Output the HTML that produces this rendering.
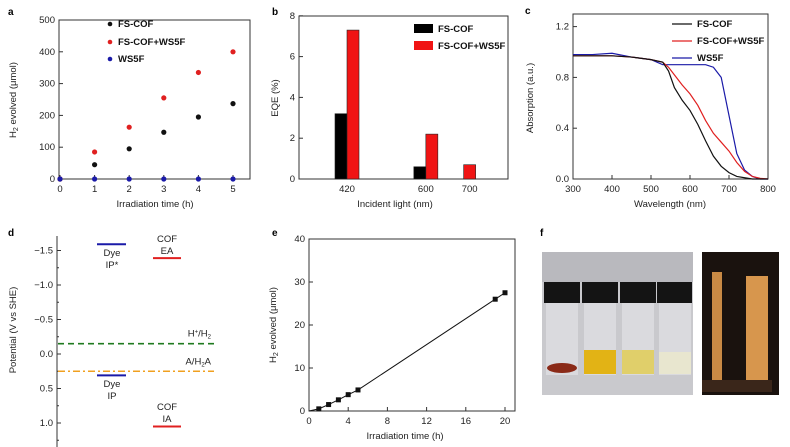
<!DOCTYPE html>
<html><head><meta charset="utf-8"><style>
body{margin:0;background:#fff;}
svg{display:block;font-family:"Liberation Sans",Arial,sans-serif;}
.t{font-size:9.5px;fill:#222}
.lb{font-size:10px;font-weight:bold;fill:#000}
.lg{font-size:9.5px;font-weight:bold;fill:#111}
</style></head><body>
<svg id="s" width="790" height="447" viewBox="0 0 790 447">
<g>
<rect x="542" y="252" width="151" height="143" fill="#c9c9cd"/>
<rect x="542" y="252" width="151" height="30" fill="#b9b9be"/>
<rect x="544" y="282" width="36" height="21" fill="#141414"/>
<rect x="582" y="282" width="36" height="21" fill="#141414"/>
<rect x="620" y="282" width="36" height="21" fill="#141414"/>
<rect x="657" y="282" width="35" height="21" fill="#141414"/>
<rect x="546" y="303" width="32" height="72" fill="#dadade"/>
<rect x="584" y="303" width="32" height="72" fill="#dadade"/>
<rect x="622" y="303" width="32" height="72" fill="#dadade"/>
<rect x="659" y="303" width="32" height="72" fill="#dadade"/>
<ellipse cx="562" cy="368" rx="15" ry="5" fill="#8a2a18"/>
<rect x="584" y="350" width="32" height="24" fill="#e2b315"/>
<rect x="622" y="350" width="32" height="24" fill="#e0cf6a"/>
<rect x="659" y="352" width="32" height="22" fill="#e8e6cf"/>
</g>
<g>
<rect x="702" y="252" width="77" height="143" fill="#1a120e"/>
<rect x="712" y="272" width="10" height="110" fill="#c98a45"/>
<rect x="746" y="276" width="22" height="105" fill="#d7964d"/>
<rect x="702" y="380" width="70" height="12" fill="#3a261a"/>
</g>
</svg>
<script>
const NS="http://www.w3.org/2000/svg";
const S=document.getElementById('s');
function el(tag,at,parent){const e=document.createElementNS(NS,tag);for(const k in at)e.setAttribute(k,at[k]);(parent||S).appendChild(e);return e;}
function tx(x,y,s,cls,anchor,rot){const e=el('text',{x:x,y:y,class:cls||'t','text-anchor':anchor||'middle'});if(rot)e.setAttribute('transform','rotate(-90 '+x+' '+y+')');e.textContent=s;return e;}

const aTimes=[0,1,2,3,4,5];
const aFS=[0,45,95,147,195,237];
const aFSW=[0,85,163,255,335,400];
const aW=[0,0,0,0,0,0];
const aYTicks=[0,100,200,300,400,500];

const bCats=[420,600,700];
const bFS=[3.2,0.6,0];
const bFSW=[7.3,2.2,0.7];
const bYTicks=[0,2,4,6,8];

const cWl=[300,350,400,450,500,530,545,560,580,600,620,640,660,680,700,720,740,760,780,800];
const cFS=[0.97,0.97,0.97,0.96,0.94,0.92,0.85,0.72,0.62,0.54,0.43,0.3,0.18,0.1,0.05,0.02,0.01,0,0,0];
const cFSW=[0.97,0.97,0.97,0.96,0.94,0.92,0.88,0.82,0.74,0.67,0.58,0.46,0.36,0.29,0.22,0.13,0.06,0.02,0.005,0];
const cWS=[0.98,0.98,0.99,0.96,0.94,0.9,0.9,0.9,0.9,0.9,0.9,0.9,0.88,0.8,0.5,0.2,0.07,0.02,0,0];
const cXTicks=[300,400,500,600,700,800];
const cYTicks=[0,0.4,0.8,1.2];

const dYTicks=[-1.5,-1.0,-0.5,0.0,0.5,1.0];
const dYLabels=['\u22121.5','\u22121.0','\u22120.5','0.0','0.5','1.0'];
const dDyeIPs=-1.59, dCofEA=-1.39, dH2=-0.15, dAH2A=0.25, dDyeIP=0.31, dCofIA=1.05;

const eT=[0,1,2,3,4,5,19,20];
const eH=[0,0.5,1.5,2.6,3.8,4.9,26,27.5];
const eXTicks=[0,4,8,12,16,20];
const eYTicks=[0,10,20,30,40];

function frame(x0,y0,x1,y1,name){const r=el('rect',{x:x0,y:y0,width:x1-x0,height:y1-y0,fill:'none',stroke:'#333','stroke-width':1});}

const ax=v=>60+v*34.6, ay=v=>179-v*0.318;
tx(8,15,'a','lb','start');
frame(59,20,250,179,'panel-a-frame');
aTimes.forEach(t=>{el('line',{x1:ax(t),y1:179,x2:ax(t),y2:175,stroke:'#333'});tx(ax(t),192,String(t));});
aYTicks.forEach(v=>{el('line',{x1:59,y1:ay(v),x2:63,y2:ay(v),stroke:'#333'});tx(55,ay(v)+3,String(v),'t','end');});
tx(155,207,'Irradiation time (h)');
const aYt=tx(16,100,'','t','middle',true);aYt.innerHTML='H<tspan font-size="7" dy="2">2</tspan><tspan dy="-2"> evolved (μmol)</tspan>';
[[aFS,'#111','fs-cof'],[aFSW,'#e02020','fs-cof-ws5f'],[aW,'#1a1aa8','ws5f']].forEach(([arr,c,n])=>{
  arr.forEach((v,i)=>{const p=el('circle',{cx:ax(aTimes[i]),cy:ay(v),r:2.6,fill:c});
  
  });});
[['FS-COF','#111',24],['FS-COF+WS5F','#e02020',42],['WS5F','#1a1aa8',59]].forEach(([s,c,y])=>{el('circle',{cx:110,cy:y,r:2.3,fill:c});const t=tx(118,y+3,s,'lg','start');});

const bx=w=>347+(w-420)*0.438, by=v=>179-v*20.4;
tx(272,15,'b','lb','start');
frame(299,16,508,179,'panel-b-frame');
bCats.forEach((c,i)=>{
  if(bFS[i]>0){const r=el('rect',{x:bx(c)-12,y:by(bFS[i]),width:12,height:179-by(bFS[i]),fill:'#000',stroke:'#222','stroke-width':0.6});
  
  }
  const r2=el('rect',{x:bFS[i]>0?bx(c):bx(c)-6,y:by(bFSW[i]),width:12,height:179-by(bFSW[i]),fill:'#f01414',stroke:'#222','stroke-width':0.6});
  
  
  tx(bx(c),192,String(c));
});
bYTicks.forEach(v=>{el('line',{x1:299,y1:by(v),x2:303,y2:by(v),stroke:'#333'});tx(295,by(v)+3,String(v),'t','end');});
tx(395,207,'Incident light (nm)');
tx(278,98,'EQE (%)','t','middle',true);
el('rect',{x:414,y:24,width:19,height:9,fill:'#000'});tx(438,32,'FS-COF','lg','start');
el('rect',{x:414,y:41,width:19,height:9,fill:'#f01414'});tx(438,49,'FS-COF+WS5F','lg','start');

const cx=w=>573+(w-300)*0.39, cy=v=>179-v*127;
tx(525,14,'c','lb','start');
frame(573,14,768,179,'panel-c-frame');
cXTicks.forEach(w=>{el('line',{x1:cx(w),y1:179,x2:cx(w),y2:175,stroke:'#333'});tx(cx(w),192,String(w));});
cYTicks.forEach(v=>{el('line',{x1:573,y1:cy(v),x2:577,y2:cy(v),stroke:'#333'});tx(569,cy(v)+3,v.toFixed(1),'t','end');});
tx(670,207,'Wavelength (nm)');
tx(533,98,'Absorption (a.u.)','t','middle',true);
[[cWS,'#1a1aa8','ws5f'],[cFSW,'#e02020','fs-cof-ws5f'],[cFS,'#111','fs-cof']].forEach(([arr,c,n])=>{
  const p=el('polyline',{points:arr.map((v,i)=>cx(cWl[i])+','+cy(v)).join(' '),fill:'none',stroke:c,'stroke-width':1.2});
  
  });
[['FS-COF','#111',24],['FS-COF+WS5F','#e02020',41],['WS5F','#1a1aa8',58]].forEach(([s,c,y])=>{el('line',{x1:672,y1:y,x2:692,y2:y,stroke:c,'stroke-width':1.2});tx(697,y+3,s,'lg','start');});

const dy=v=>354+v*69;
tx(8,236,'d','lb','start');
const dAx=el('line',{x1:57,y1:236,x2:57,y2:447,stroke:'#333'});


dYTicks.forEach((v,i)=>{el('line',{x1:57,y1:dy(v),x2:61,y2:dy(v),stroke:'#333'});tx(53,dy(v)+3,dYLabels[i],'t','end');
 el('line',{x1:57,y1:dy(v+0.25),x2:59,y2:dy(v+0.25),stroke:'#333'});});
tx(16,330,'Potential (V vs SHE)','t','middle',true);
function lvl(v,x1,x2,c,n){const l=el('line',{x1:x1,y1:dy(v),x2:x2,y2:dy(v),stroke:c,'stroke-width':2});}
lvl(dDyeIPs,97,126,'#1a1aa8','level-dye-ip-star');tx(112,256,'Dye');tx(112,268,'IP*');
lvl(dCofEA,153,181,'#e02020','level-cof-ea');tx(167,242,'COF');tx(167,254,'EA');
lvl(dDyeIP,97,126,'#1a1aa8','level-dye-ip');tx(112,387,'Dye');tx(112,399,'IP');
lvl(dCofIA,153,181,'#e02020','level-cof-ia');tx(167,410,'COF');tx(167,422,'IA');
const h2=el('line',{x1:58,y1:dy(dH2),x2:214,y2:dy(dH2),stroke:'#1f7a1f','stroke-width':1.6,'stroke-dasharray':'6,4'});


const ah=el('line',{x1:58,y1:dy(dAH2A),x2:214,y2:dy(dAH2A),stroke:'#f0a020','stroke-width':1.6,'stroke-dasharray':'7,3,2,3'});


const t1=tx(211,dy(dH2)-7,'','t','end');t1.innerHTML='H<tspan font-size="6" dy="-3">+</tspan><tspan dy="3">/H</tspan><tspan font-size="6" dy="2">2</tspan>';
const t2=tx(211,dy(dAH2A)-7,'','t','end');t2.innerHTML='A/H<tspan font-size="6" dy="2">2</tspan><tspan dy="-2">A</tspan>';

const ex=v=>309+v*9.8, ey=v=>411-v*4.3;
tx(272,236,'e','lb','start');
frame(309,239,515,411,'panel-e-frame');
eXTicks.forEach(v=>{el('line',{x1:ex(v),y1:411,x2:ex(v),y2:407,stroke:'#333'});tx(ex(v),424,String(v));});
eYTicks.forEach(v=>{el('line',{x1:309,y1:ey(v),x2:313,y2:ey(v),stroke:'#333'});tx(305,ey(v)+3,String(v),'t','end');});
tx(405,439,'Irradiation time (h)');
const eYt=tx(276,325,'','t','middle',true);eYt.innerHTML='H<tspan font-size="7" dy="2">2</tspan><tspan dy="-2"> evolved (μmol)</tspan>';
const eL=el('polyline',{points:eT.map((t,i)=>ex(t)+','+ey(eH[i])).join(' '),fill:'none',stroke:'#111','stroke-width':1});


eT.forEach((t,i)=>{if(i===0)return;const r=el('rect',{x:ex(t)-2.5,y:ey(eH[i])-2.5,width:5,height:5,fill:'#111'});
 
 });

tx(540,236,'f','lb','start');
</script>
</body></html>
